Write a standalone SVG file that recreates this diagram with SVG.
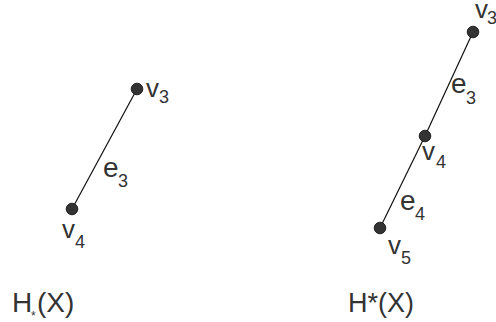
<svg xmlns="http://www.w3.org/2000/svg" width="496" height="322" viewBox="0 0 496 322">
<style>
.lbl{font-family:"Liberation Sans",Arial,sans-serif;fill:#333;}
.m{font-size:26px;}
.e{font-size:28px;}
.s{font-size:18px;}
.t{font-size:28px;}
.node{fill:#333;stroke:#222;stroke-width:1;}
.edge{stroke:#111;stroke-width:1.2;fill:none;}
</style>
<rect width="496" height="322" fill="#fff"/>
<g id="connectors">
<line class="edge" x1="137" y1="89" x2="72" y2="209"/>
<line class="edge" x1="473" y1="32" x2="425" y2="136"/>
<line class="edge" x1="425" y1="136" x2="380" y2="228"/>
<text class="lbl" x="103" y="177"><tspan class="e">e</tspan><tspan class="s" x="118" y="187">3</tspan></text>
<text class="lbl" x="451" y="93"><tspan class="e">e</tspan><tspan class="s" x="466" y="104">3</tspan></text>
<text class="lbl" x="400" y="210"><tspan class="e">e</tspan><tspan class="s" x="415" y="220">4</tspan></text>
</g>
<g id="left-v3">
<circle class="node" cx="137" cy="89" r="5.8"/>
<text class="lbl" x="146" y="97"><tspan class="m">v</tspan><tspan class="s" x="159" y="103">3</tspan></text>
</g>
<g id="left-v4">
<circle class="node" cx="72" cy="209" r="5.8"/>
<text class="lbl" x="62" y="238"><tspan class="m">v</tspan><tspan class="s" x="75" y="248">4</tspan></text>
</g>
<g id="right-v3">
<circle class="node" cx="473" cy="32" r="5.8"/>
<text class="lbl" x="475" y="18"><tspan class="m">v</tspan><tspan class="s" x="487" y="24">3</tspan></text>
</g>
<g id="right-v4">
<circle class="node" cx="425" cy="136" r="5.8"/>
<text class="lbl" x="422" y="160"><tspan class="m">v</tspan><tspan class="s" x="436" y="168">4</tspan></text>
</g>
<g id="right-v5">
<circle class="node" cx="380" cy="228" r="5.8"/>
<text class="lbl" x="388" y="254"><tspan class="m">v</tspan><tspan class="s" x="401" y="264">5</tspan></text>
</g>
<g id="titles">
<text class="lbl t" x="12" y="312">H<tspan font-size="12px" x="31" y="320">*</tspan><tspan x="37" y="312">(X)</tspan></text>
<text class="lbl" x="348" y="312" font-size="27px">H*(X)</text>
</g>
</svg>
